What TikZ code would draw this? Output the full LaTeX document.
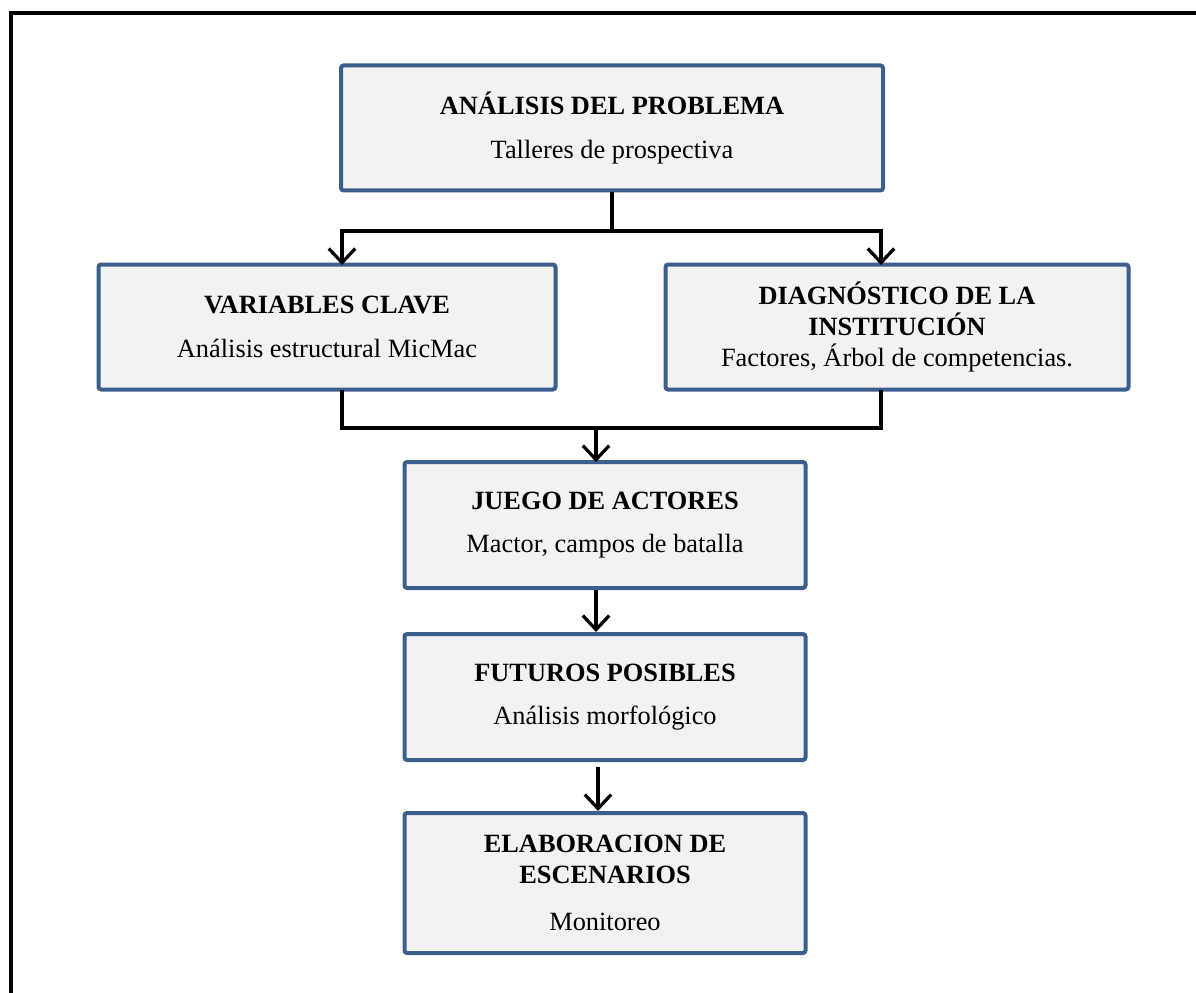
\documentclass[tikz,border=0pt]{standalone}
\usepackage{fontspec}
\setmainfont{Liberation Serif}
\usetikzlibrary{arrows.meta,calc}
\definecolor{boxblue}{HTML}{3B5E8C}
\definecolor{boxgray}{HTML}{F2F2F2}
\begin{document}
\begin{tikzpicture}[
    x=0.02cm, y=-0.02cm,
    font=\fontsize{15}{17.6}\selectfont,
    stage/.style={draw=boxblue, fill=boxgray, line width=0.08cm,
      rounded corners=1.5pt, align=center, inner sep=0pt},
    link/.style={draw, black, line width=0.065cm},
    arrow/.style={link, -{Straight Barb[length=8pt,width=15pt,line width=0.065cm]}},
  ]
  \useasboundingbox (0,0) rectangle (1196,993);
  \clip (0,0) rectangle (1196,993);
  % ---- marco exterior ----
  \draw[black, line width=0.08cm] (11,1020) -- (11,13) -- (1220,13);

  % ---- etapas ----
  \node[stage, minimum width=542*0.02cm, minimum height=125*0.02cm] (prob) at (612,128)
    {\textbf{ANÁLISIS DEL PROBLEMA}\\[7pt] Talleres de prospectiva};
  \node[stage, minimum width=457*0.02cm, minimum height=125*0.02cm] (vars) at (327,327)
    {\textbf{VARIABLES CLAVE}\\[7pt] Análisis estructural MicMac};
  \node[stage, minimum width=463*0.02cm, minimum height=125*0.02cm] (diag) at (897,327)
    {\textbf{DIAGNÓSTICO DE LA}\\ \textbf{INSTITUCIÓN}\\ Factores, Árbol de competencias.};
  \node[stage, minimum width=401*0.02cm, minimum height=126*0.02cm] (juego) at (605,525)
    {\textbf{JUEGO DE ACTORES}\\[7pt] Mactor, campos de batalla};
  \node[stage, minimum width=401*0.02cm, minimum height=126*0.02cm] (futu) at (605,697)
    {\textbf{FUTUROS POSIBLES}\\[7pt] Análisis morfológico};
  \node[stage, minimum width=401*0.02cm, minimum height=140*0.02cm] (esce) at (605,883)
    {\textbf{ELABORACION DE}\\ \textbf{ESCENARIOS}\\[9pt] Monitoreo};

  % ---- conectores ----
  \coordinate (split) at (612,231);
  \coordinate (inL) at (342,265);
  \coordinate (inR) at (881,265);
  \draw[link] (prob.south) -- (split);
  \draw[arrow] (split) -| (inL);
  \draw[arrow] (split) -| (inR);

  \coordinate (outL) at (342,390);
  \coordinate (outR) at (881,390);
  \coordinate (join) at (596,428);
  \coordinate (inJ) at (596,462);
  \draw[link] (outL) |- (join);
  \draw[link] (outR) |- (join);
  \draw[arrow] (join) -- (inJ);

  \draw[arrow] (juego.south -| inJ) -- (futu.north -| inJ);
  \coordinate (outF) at (598,767);
  \draw[arrow] (outF) -- (outF |- esce.north);
\end{tikzpicture}
\end{document}
